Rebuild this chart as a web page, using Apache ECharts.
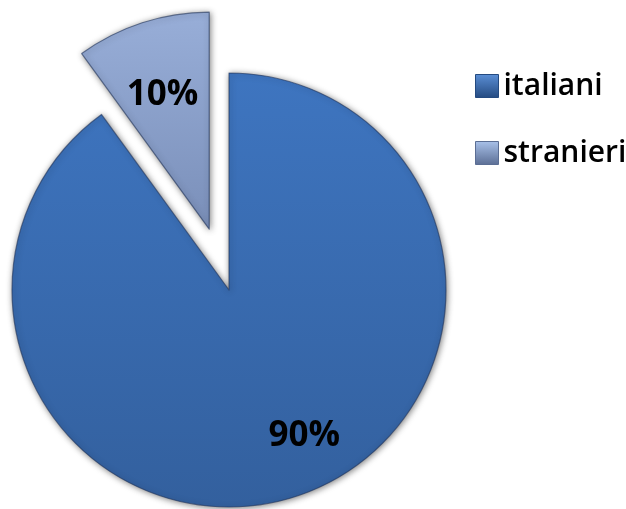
<!DOCTYPE html>
<html>
<head>
<meta charset="utf-8">
<script src="https://cdn.jsdelivr.net/npm/echarts@6/dist/echarts.min.js"></script>
<style>html,body{margin:0;padding:0;background:#fff}#c{width:626px;height:509px}</style>
</head>
<body>
<div id="c"></div>
<script>
const categories = ['italiani', 'stranieri'];
const values = [90, 10];
const labels = ['90%', '10%'];
const exploded = [false, true];

const colors = [
  { top: '#3E75C0', bottom: '#33609E', legendTop: '#5B8FD6', legendBottom: '#244A80' },
  { top: '#98AED8', bottom: '#7A8FB9', legendTop: '#A9C2EA', legendBottom: '#5B6E94' }
];

function grad(c) {
  return new echarts.graphic.LinearGradient(0, 0, 0, 1, [
    { offset: 0, color: c.top }, { offset: 1, color: c.bottom }
  ]);
}

const chart = echarts.init(document.getElementById('c'), null, { renderer: 'canvas' });

const center = [229, 290];
const shared = {
  type: 'pie',
  center: center,
  startAngle: 90,
  clockwise: true,
  selectedMode: 'multiple',
  selectedOffset: 64,
  avoidLabelOverlap: false,
  animation: false
};

chart.setOption({
  backgroundColor: '#fff',
  legend: {
    orient: 'vertical',
    left: 470,
    top: 66,
    itemWidth: 23,
    itemHeight: 23,
    itemGap: 37,
    icon: 'rect',
    selectedMode: false,
    textStyle: { fontFamily: 'Open Sans', fontWeight: 600, fontSize: 30, lineHeight: 23, color: '#000' },
    data: categories.map((n, i) => ({
      name: n,
      itemStyle: {
        color: new echarts.graphic.LinearGradient(0, 0, 0, 1, [
          { offset: 0, color: colors[i].legendTop }, { offset: 1, color: colors[i].legendBottom }
        ]),
        borderColor: colors[i].legendBottom, borderWidth: 1
      }
    }))
  },
  series: [
    Object.assign({}, shared, {
      name: 'main',
      radius: [0, 217],
      label: { show: false },
      labelLine: { show: false },
      data: categories.map((n, i) => ({
        name: n,
        value: values[i],
        selected: exploded[i],
        itemStyle: {
          color: grad(colors[i]),
          borderColor: 'rgba(30,50,90,0.6)',
          borderWidth: 1.2,
          shadowBlur: 6,
          shadowColor: 'rgba(0,0,0,0.5)',
          shadowOffsetX: 1,
          shadowOffsetY: 1
        }
      }))
    }),
    Object.assign({}, shared, {
      name: 'labels',
      radius: [0, 277],
      silent: true,
      z: 5,
      itemStyle: { color: 'transparent' },
      labelLine: { show: false },
      label: {
        show: true,
        position: 'inside',
        formatter: p => '{v|' + labels[p.dataIndex] + '}',
        rich: {
          v: { fontFamily: 'Open Sans', fontWeight: 'bold', fontSize: 35, color: '#000' }
        }
      },
      data: categories.map((n, i) => ({
        name: n,
        value: values[i],
        selected: exploded[i],
        label: i === 0 ? { padding: [22, 0, 0, 63] } : { padding: [0, 6, 0, 0] }
      }))
    })
  ]
});
</script>
</body>
</html>
